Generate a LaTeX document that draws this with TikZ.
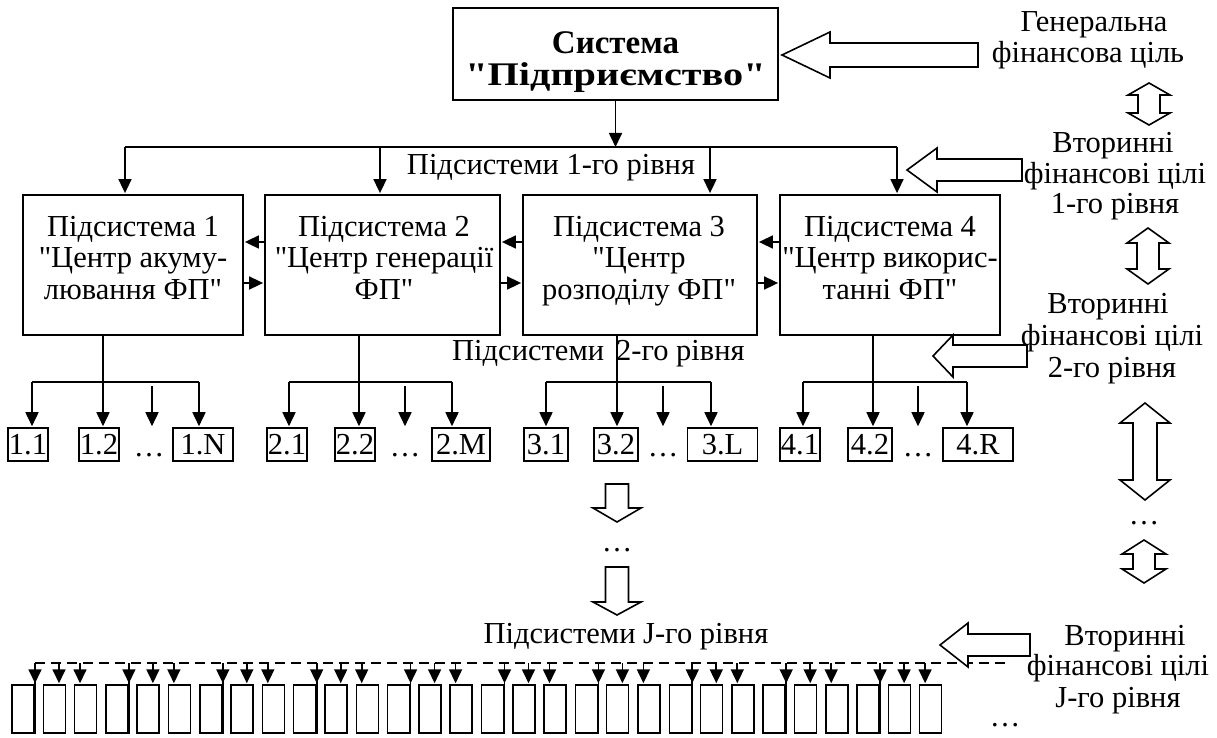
\documentclass[tikz,border=0pt]{standalone}
\usepackage{fontspec}
\setmainfont{Liberation Serif}[Ligatures=TeXOff]
\usetikzlibrary{arrows.meta,calc}
\newcommand\hleft[6]{% tipx, cy, backx, tailx, headhalf, shafthalf
  \draw[hollow] (#1,#2) -- (#3,#2-#5) -- (#3,#2-#6) -- (#4,#2-#6) -- (#4,#2+#6) -- (#3,#2+#6) -- (#3,#2+#5) -- cycle;}
\newcommand\hdouble[6]{% cx, top, bottom, headlen, headhalf, shafthalf
  \draw[hollow] (#1,#2) -- (#1+#5,#2+#4) -- (#1+#6,#2+#4) -- (#1+#6,#3-#4) -- (#1+#5,#3-#4) -- (#1,#3)
   -- (#1-#5,#3-#4) -- (#1-#6,#3-#4) -- (#1-#6,#2+#4) -- (#1-#5,#2+#4) -- cycle;}
\newcommand\hdown[6]{% cx, top, headback, tip, shafthalf, headhalf
  \draw[hollow] (#1-#5,#2) -- (#1-#5,#3) -- (#1-#6,#3) -- (#1,#4) -- (#1+#6,#3) -- (#1+#5,#3) -- (#1+#5,#2) -- cycle;}
\begin{document}
\begin{tikzpicture}[x=1pt,y=-1pt,
  txt/.style={font=\fontsize{30.5}{31.5}\selectfont, inner sep=0pt, align=center},
  bigbox/.style={draw, line width=1.8pt, inner sep=0pt, minimum height=140pt},
  smallbox/.style={draw, line width=1.6pt, inner sep=0pt, minimum height=33pt, font=\fontsize{30.5}{31.5}\selectfont},
  tinybox/.style={draw, line width=1.5pt, inner sep=0pt, minimum width=22pt, minimum height=48pt},
  link/.style={line width=1.7pt},
  arr/.style={line width=1.7pt, -{Triangle[length=14pt,width=13pt]}, shorten >=1pt},
  hollow/.style={draw, line width=1.6pt, fill=white, line join=miter},
  dashline/.style={line width=1.6pt, dash pattern=on 10pt off 6pt},
]
\fill[white] (0,0) rectangle (1217,738);
\useasboundingbox (0,0) rectangle (1217,738);

% top system box
\node[bigbox, minimum width=325pt, minimum height=92pt] (sys) at (615.5,54) {};
\node[txt, font=\fontsize{33}{32.5}\selectfont\bfseries, anchor=north] (syst) at (615.5,31) {Система\\\scalebox{1.22}[1]{"Підприємство"}};

% subsystem boxes
\node[bigbox, minimum width=220pt] (s1) at (133,265) {};
\node[txt, anchor=north] (s1t) at (133,216) {Підсистема 1\\"Центр акуму-\\лювання ФП"};
\node[bigbox, minimum width=235pt] (s2) at (382.5,265) {};
\node[txt, anchor=north] (s2t) at (384,216) {Підсистема 2\\"Центр генерації\\ФП"};
\node[bigbox, minimum width=234pt] (s3) at (640,265) {};
\node[txt, anchor=north] (s3t) at (639,216) {Підсистема 3\\"Центр\\розподілу ФП"};
\node[bigbox, minimum width=220pt] (s4) at (890,265) {};
\node[txt, anchor=north] (s4t) at (890,216) {Підсистема 4\\"Центр викорис-\\танні ФП"};

% arrows between subsystem boxes
\draw[arr] ([yshift=23pt]s2.west) -- ([yshift=23pt]s1.east);
\draw[arr] ([yshift=-18pt]s1.east) -- ([yshift=-18pt]s2.west);
\draw[arr] ([yshift=23pt]s3.west) -- ([yshift=23pt]s2.east);
\draw[arr] ([yshift=-18pt]s2.east) -- ([yshift=-18pt]s3.west);
\draw[arr] ([yshift=23pt]s4.west) -- ([yshift=23pt]s3.east);
\draw[arr] ([yshift=-18pt]s3.east) -- ([yshift=-18pt]s4.west);

% distribution from system to subsystems
\coordinate (d0) at (615.5,147);
\coordinate (d1) at (125,147);
\coordinate (d2) at (380,147);
\coordinate (d3) at (710,147);
\coordinate (d4) at (897,147);
\draw[arr, shorten >=0pt] (sys.south) -- (d0);
\draw[link] (d1) -- (d4);
\foreach \i in {1,...,4} \draw[arr] (d\i) -- (d\i |- s\i.north);
\node[txt, anchor=base] (l1) at (551,175) {Підсистеми 1-го рівня};

% level-2 boxes
\node[smallbox, minimum width=40pt] (b11) at (28,444.5) {1.1};
\node[smallbox, minimum width=40pt] (b12) at (99,444.5) {1.2};
\node[smallbox, minimum width=60pt] (b1N) at (203,444.5) {1.N};
\node[smallbox, minimum width=40pt] (b21) at (287,444.5) {2.1};
\node[smallbox, minimum width=40pt] (b22) at (355,444.5) {2.2};
\node[smallbox, minimum width=58pt] (b2M) at (461,444.5) {2.M};
\node[smallbox, minimum width=44pt] (b31) at (546,444.5) {3.1};
\node[smallbox, minimum width=44pt] (b32) at (616,444.5) {3.2};
\node[smallbox, minimum width=70pt] (b3L) at (722.5,444.5) {3.L};
\node[smallbox, minimum width=40pt] (b41) at (800,444.5) {4.1};
\node[smallbox, minimum width=44pt] (b42) at (870,444.5) {4.2};
\node[smallbox, minimum width=70pt] (b4R) at (978,444.5) {4.R};
\node[txt, anchor=base] (e1) at (149,456) {…};
\node[txt, anchor=base] (e2) at (405,456) {…};
\node[txt, anchor=base] (e3) at (663,456) {…};
\node[txt, anchor=base] (e4) at (918,456) {…};

% level-2 connectors
\coordinate (a11) at (32,382);  \coordinate (a12) at (103,382); \coordinate (a13) at (152,386); \coordinate (a14) at (199,382);
\coordinate (a21) at (289,382); \coordinate (a22) at (359,382); \coordinate (a23) at (405,386); \coordinate (a24) at (452,382);
\coordinate (a31) at (546,382); \coordinate (a32) at (617,382); \coordinate (a33) at (663,386); \coordinate (a34) at (711,382);
\coordinate (a41) at (803,382); \coordinate (a42) at (873,382); \coordinate (a43) at (918,386); \coordinate (a44) at (967,382);
\draw[link] (s1.south -| a12) -- (a12);
\draw[link] (s2.south -| a22) -- (a22);
\draw[link] (s3.south -| a32) -- (a32);
\draw[link] (s4.south -| a42) -- (a42);
\draw[link] (a11) -- (a14);
\draw[link] (a21) -- (a24);
\draw[link] (a31) -- (a34);
\draw[link] (a41) -- (a44);
\draw[arr] (a11) -- (a11 |- b11.north);
\draw[arr] (a12) -- (a12 |- b12.north);
\draw[arr] (a13) -- (a13 |- b12.north);
\draw[arr] (a14) -- (a14 |- b1N.north);
\draw[arr] (a21) -- (a21 |- b21.north);
\draw[arr] (a22) -- (a22 |- b22.north);
\draw[arr] (a23) -- (a23 |- b22.north);
\draw[arr] (a24) -- (a24 |- b2M.north);
\draw[arr] (a31) -- (a31 |- b31.north);
\draw[arr] (a32) -- (a32 |- b32.north);
\draw[arr] (a33) -- (a33 |- b32.north);
\draw[arr] (a34) -- (a34 |- b3L.north);
\draw[arr] (a41) -- (a41 |- b41.north);
\draw[arr] (a42) -- (a42 |- b42.north);
\draw[arr] (a43) -- (a43 |- b42.north);
\draw[arr] (a44) -- (a44 |- b4R.north);
\node[txt, anchor=base west] (l2) at (452,360) {Підсистеми\hspace{12pt}2-го рівня};

% hollow down arrows under 3.2
\hdown{617}{484}{508}{522}{11.5}{24}
\node[txt, anchor=base] (mdots) at (617,551) {…};
\hdown{617}{567}{602}{615}{11.5}{24}
\node[txt, anchor=base] (lJ) at (626,643) {Підсистеми J-го рівня};

% bottom row
\foreach \i in {0,...,29} \node[tinybox] (j\i) at ({23+31.3*\i},709) {};
\coordinate (jL) at (35,663);
\coordinate (jR) at (1010,663);
\draw[dashline] (jL) -- (jR);
\foreach \g in {0,...,9} {
  \pgfmathsetmacro\gx{35+93.9*\g}
  \pgfmathtruncatemacro\ka{3*\g}
  \pgfmathtruncatemacro\kb{3*\g+1}
  \pgfmathtruncatemacro\kc{3*\g+2}
  \coordinate (g\g) at (\gx,663);
  \coordinate (gb\g) at ({\gx+24},663);
  \coordinate (gc\g) at ({\gx+45},663);
  \draw[link] (g\g) -- (g\g |- j\ka.south);
  \draw[arr] (g\g) -- (g\g |- j\ka.north);
  \draw[arr] (gb\g) -- (gb\g |- j\kb.north);
  \draw[arr] (gc\g) -- (gc\g |- j\kc.north);
}
\node[txt, anchor=base] (bdots) at (1005,726) {…};

% hollow goal arrows
\hleft{782}{55}{830}{978}{23}{12}
\hleft{907}{170}{937}{1022}{22}{11}
\hleft{933}{356}{953}{1027}{21}{11}
\hleft{940}{645}{968}{1030}{22}{11}

% right column texts
\node[txt, anchor=base] (r1a) at (1094,32) {Генеральна};
\node[txt, anchor=base] (r1b) at (1088,63) {фінансова ціль};
\node[txt, anchor=base] (r2a) at (1113,153) {Вторинні};
\node[txt, anchor=base] (r2b) at (1115,183) {фінансові цілі};
\node[txt, anchor=base] (r2c) at (1115,213) {1-го рівня};
\node[txt, anchor=base] (r3a) at (1108,313) {Вторинні};
\node[txt, anchor=base] (r3b) at (1112,345) {фінансові цілі};
\node[txt, anchor=base] (r3c) at (1112,377) {2-го рівня};
\node[txt, anchor=base] (r4a) at (1125,645) {Вторинні};
\node[txt, anchor=base] (r4b) at (1118,675) {фінансові цілі};
\node[txt, anchor=base] (r4c) at (1118,707) {J-го рівня};

% double arrows on the right
\hdouble{1149}{83}{125}{12}{21}{11}
\hdouble{1148}{228}{284}{15}{21}{11}
\hdouble{1145}{403}{500}{20}{25}{12}
\node[txt, anchor=base] (rdots) at (1144,524) {…};
\hdouble{1144}{540}{583}{14}{22}{11}
\end{tikzpicture}
\end{document}
